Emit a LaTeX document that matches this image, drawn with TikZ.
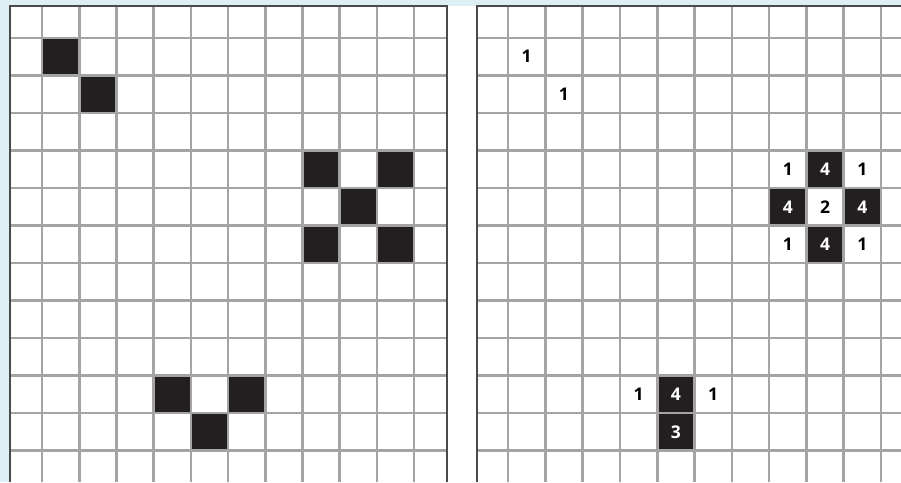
\documentclass[tikz,border=0pt]{standalone}
\usepackage{fontspec}
\setmainfont{Open Sans}
\usepackage{xcolor}
\usepackage{tikz}
\definecolor{pageblue}{HTML}{DDEEF5}
\definecolor{cellblack}{HTML}{231F20}
\definecolor{gridgray}{HTML}{A4A4A4}
\definecolor{edgegray}{HTML}{4A4A4A}
\tikzset{
  gridline/.style={gridgray,line width=2.6pt},
  edgeline/.style={edgegray,line width=2.4pt},
  count/.style={font=\fontsize{17.5}{17.5}\selectfont\bfseries,inner sep=0pt},
  blackcount/.style={count,white}
}

\begin{document}
\begin{tikzpicture}[x=1pt,y=-1pt]
  \useasboundingbox (0,0) rectangle (901,482);
  \fill[pageblue] (0,0) rectangle (901,482);
  \fill[white] (9,6) rectangle (901,482);
  % left grid: black cells
  \foreach \c/\r in {1/1,2/2,8/4,10/4,9/5,8/6,10/6,4/10,6/10,5/11}
    \fill[cellblack] ({42+37.2*(\c-1)},{38+37.5*(\r-1)}) rectangle ++(37.2,37.5);
  % right grid: black cells
  \foreach \c/\r in {9/4,8/5,10/5,9/6,5/10,5/11}
    \fill[cellblack] ({508+37.3*(\c-1)},{38+37.5*(\r-1)}) rectangle ++(37.3,37.5);
  % grid lines
  \foreach \k in {0,...,10} {
    \draw[gridline] ({42+37.2*\k},6) -- ({42+37.2*\k},482);
    \draw[gridline] ({508+37.3*\k},6) -- ({508+37.3*\k},482);
  }
  \foreach \k in {0,...,11} {
    \draw[gridline] (10,{38+37.5*\k}) -- (447,{38+37.5*\k});
    \draw[gridline] (477,{38+37.5*\k}) -- (901,{38+37.5*\k});
  }
  % borders
  \draw[edgeline] (10,482) -- (10,6) -- (447,6) -- (447,482);
  \draw[edgeline] (477,482) -- (477,6) -- (901,6);
  % counts in the right grid
  \foreach \c/\r/\v in {1/1/1,2/2/1,8/4/1,10/4/1,9/5/2,8/6/1,10/6/1,4/10/1,6/10/1}
    \node[count] (n\c-\r) at ({508+37.3*(\c-0.5)},{38+37.5*(\r-0.5)}) {\v};
  \foreach \c/\r/\v in {9/4/4,8/5/4,10/5/4,9/6/4,5/10/4,5/11/3}
    \node[blackcount] (b\c-\r) at ({508+37.3*(\c-0.5)},{38+37.5*(\r-0.5)}) {\v};
\end{tikzpicture}
\end{document}
